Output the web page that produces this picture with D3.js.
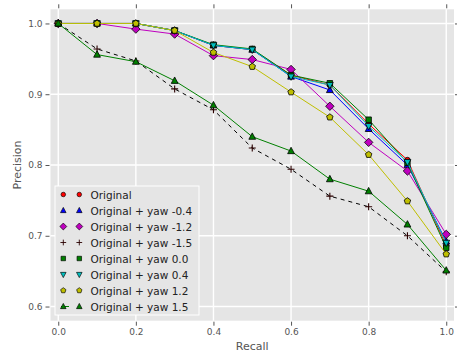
<!DOCTYPE html>
<html>
<head>
<meta charset="utf-8">
<script src="https://cdn.jsdelivr.net/npm/d3@7/dist/d3.min.js"></script>
<style>
  html, body { margin: 0; padding: 0; background: #ffffff; }
  svg { display: block; font-family: "DejaVu Sans", sans-serif; }
</style>
</head>
<body>
<div id="chart"></div>
<script>
// Precision / recall curves for each yaw offset
const recall = [0.0, 0.1, 0.2, 0.3, 0.4, 0.5, 0.6, 0.7, 0.8, 0.9, 1.0];

const precOriginal = [1.0, 1.0, 1.0, 0.990, 0.969, 0.963, 0.927, 0.913, 0.858, 0.807, 0.686];
const precYawM04   = [1.0, 1.0, 1.0, 0.990, 0.969, 0.963, 0.925, 0.906, 0.851, 0.800, 0.692];
const precYawM12   = [1.0, 1.0, 0.992, 0.985, 0.9545, 0.949, 0.935, 0.883, 0.832, 0.7915, 0.702];
const precYawM15   = [1.0, 0.964, 0.947, 0.9075, 0.878, 0.824, 0.794, 0.756, 0.741, 0.700, 0.649];
const precYaw00    = [1.0, 1.0, 1.0, 0.990, 0.970, 0.964, 0.927, 0.9155, 0.864, 0.803, 0.683];
const precYaw04    = [1.0, 1.0, 1.0, 0.990, 0.969, 0.963, 0.925, 0.913, 0.855, 0.804, 0.690];
const precYaw12    = [1.0, 1.0, 1.0, 0.990, 0.959, 0.939, 0.903, 0.8675, 0.8146, 0.749, 0.674];
const precYaw15    = [1.0, 0.956, 0.946, 0.919, 0.8845, 0.840, 0.8197, 0.780, 0.763, 0.716, 0.651];

const seriesNames = [
  "Original", "Original + yaw -0.4", "Original + yaw -1.2", "Original + yaw -1.5",
  "Original + yaw 0.0", "Original + yaw 0.4", "Original + yaw 1.2", "Original + yaw 1.5"
];
const seriesValues = [precOriginal, precYawM04, precYawM12, precYawM15,
                      precYaw00, precYaw04, precYaw12, precYaw15];

const xTicks = [0.0, 0.2, 0.4, 0.6, 0.8, 1.0];
const yTicks = [0.6, 0.7, 0.8, 0.9, 1.0];

// Per-series styling
const styles = [
  { color: "#ff0000", marker: "circle",   dash: null },
  { color: "#0000ff", marker: "triUp",    dash: null },
  { color: "#bf00bf", marker: "diamond",  dash: null },
  { color: "#000000", marker: "plus",     dash: "4,4", markColor: "#2a0000" },
  { color: "#008000", marker: "square",   dash: null },
  { color: "#00bfbf", marker: "triDown",  dash: null },
  { color: "#bfbf00", marker: "pentagon", dash: null },
  { color: "#008000", marker: "triUp",    dash: null }
];

const W = 457, H = 356;
const plot = { left: 50.5, right: 454, top: 9.3, bottom: 320.7 };

const svg = d3.select("#chart").append("svg")
  .attr("width", W).attr("height", H);

const x = d3.scaleLinear().domain([-0.02, 1.02]).range([plot.left, plot.right]);
const y = d3.scaleLinear().domain([0.58, 1.02]).range([plot.bottom, plot.top]);

// Axes background
svg.append("rect")
  .attr("x", plot.left).attr("y", plot.top)
  .attr("width", plot.right - plot.left).attr("height", plot.bottom - plot.top)
  .attr("fill", "#e5e5e5");

// Grid lines
const grid = svg.append("g");
grid.selectAll("line.gx").data(xTicks).join("line")
  .attr("x1", d => x(d)).attr("x2", d => x(d))
  .attr("y1", plot.top).attr("y2", plot.bottom)
  .attr("stroke", "#ffffff").attr("stroke-width", 1.4);
grid.selectAll("line.gy").data(yTicks).join("line")
  .attr("y1", d => y(d)).attr("y2", d => y(d))
  .attr("x1", plot.left).attr("x2", plot.right)
  .attr("stroke", "#ffffff").attr("stroke-width", 1.4);

// Axes with outward ticks on all four sides
const tickColor = "#555555";
function styleAxis(g, showLabels) {
  g.select(".domain").remove();
  g.selectAll(".tick line").attr("stroke", tickColor).attr("stroke-width", 1);
  g.selectAll(".tick text").attr("fill", "#555555").style("font-size", "9px")
    .style("font-family", "DejaVu Sans, sans-serif");
  if (!showLabels) g.selectAll(".tick text").remove();
}
svg.append("g").attr("transform", `translate(0,${plot.bottom + 1})`)
  .call(d3.axisBottom(x).tickValues(xTicks).tickFormat(d3.format(".1f")).tickSize(4).tickPadding(3))
  .call(g => styleAxis(g, true));
svg.append("g").attr("transform", `translate(0,${plot.top - 1})`)
  .call(d3.axisTop(x).tickValues(xTicks).tickSize(4))
  .call(g => styleAxis(g, false));
svg.append("g").attr("transform", `translate(${plot.left - 1},0)`)
  .call(d3.axisLeft(y).tickValues(yTicks).tickFormat(d3.format(".1f")).tickSize(4).tickPadding(3))
  .call(g => styleAxis(g, true));
svg.append("g").attr("transform", `translate(${plot.right + 1},0)`)
  .call(d3.axisRight(y).tickValues(yTicks).tickSize(4))
  .call(g => styleAxis(g, false));

// Axis titles
svg.append("text")
  .attr("x", (plot.left + plot.right) / 2).attr("y", 350)
  .attr("text-anchor", "middle").attr("fill", "#555555")
  .style("font-size", "11px").text("Recall");
svg.append("text")
  .attr("transform", `translate(21,${(plot.top + plot.bottom) / 2}) rotate(-90)`)
  .attr("text-anchor", "middle").attr("fill", "#555555")
  .style("font-size", "11px").text("Precision");

// Marker shapes
function markerPath(kind) {
  switch (kind) {
    case "circle":   return d3.symbol(d3.symbolCircle, 24)();
    case "square":   return d3.symbol(d3.symbolSquare, 30)();
    case "diamond":  return "M0,-4.2L4.2,0L0,4.2L-4.2,0Z";
    case "triUp":    return "M0,-3.8L3.4,2.6L-3.4,2.6Z";
    case "triDown":  return "M0,3.8L3.4,-2.6L-3.4,-2.6Z";
    case "pentagon": return d3.range(5).map(i => {
        const a = -Math.PI / 2 + i * 2 * Math.PI / 5;
        return (i ? "L" : "M") + (3.4 * Math.cos(a)).toFixed(2) + "," + (3.4 * Math.sin(a)).toFixed(2);
      }).join("") + "Z";
    case "plus":     return "M-3.5,0L3.5,0M0,-3.5L0,3.5";
  }
}
function drawMarker(g, st) {
  if (st.marker === "plus") {
    g.append("path").attr("d", markerPath("plus"))
      .attr("stroke", st.markColor || "#000").attr("stroke-width", 1.1).attr("fill", "none");
  } else {
    g.append("path").attr("d", markerPath(st.marker))
      .attr("fill", st.color).attr("stroke", "#000000").attr("stroke-width", 0.8);
  }
}

// Series lines and markers
const line = d3.line().x(d => x(d[0])).y(d => y(d[1]));
const seriesLayer = svg.append("g");

seriesValues.forEach((vals, i) => {
  const st = styles[i];
  const pts = recall.map((r, k) => [r, vals[k]]);
  const g = seriesLayer.append("g");
  g.append("path").datum(pts)
    .attr("d", line).attr("fill", "none")
    .attr("stroke", st.color).attr("stroke-width", 1)
    .attr("stroke-dasharray", st.dash);
  g.selectAll("g.pt").data(pts).join("g")
    .attr("transform", d => `translate(${x(d[0])},${y(d[1])})`)
    .each(function () { drawMarker(d3.select(this), st); });
});

// Legend
const leg = svg.append("g").attr("transform", "translate(55,186)");
leg.append("rect").attr("x", 0).attr("y", 0).attr("width", 144).attr("height", 129)
  .attr("fill", "#e5e5e5").attr("stroke", "#ffffff").attr("stroke-width", 1);
seriesNames.forEach((name, i) => {
  const st = styles[i];
  const row = leg.append("g").attr("transform", `translate(0,${8.5 + i * 16})`);
  if (i === 7) {
    row.append("line").attr("x1", 6).attr("x2", 14)
      .attr("stroke", st.color).attr("stroke-width", 1);
  }
  [8.3, 24.3].forEach(cx => {
    const m = row.append("g").attr("transform", `translate(${cx},0) scale(0.82)`);
    drawMarker(m, st);
  });
  row.append("text").attr("x", 35.5).attr("y", 4)
    .attr("fill", "#222222").style("font-size", "10.5px").text(name);
});
</script>
</body>
</html>
